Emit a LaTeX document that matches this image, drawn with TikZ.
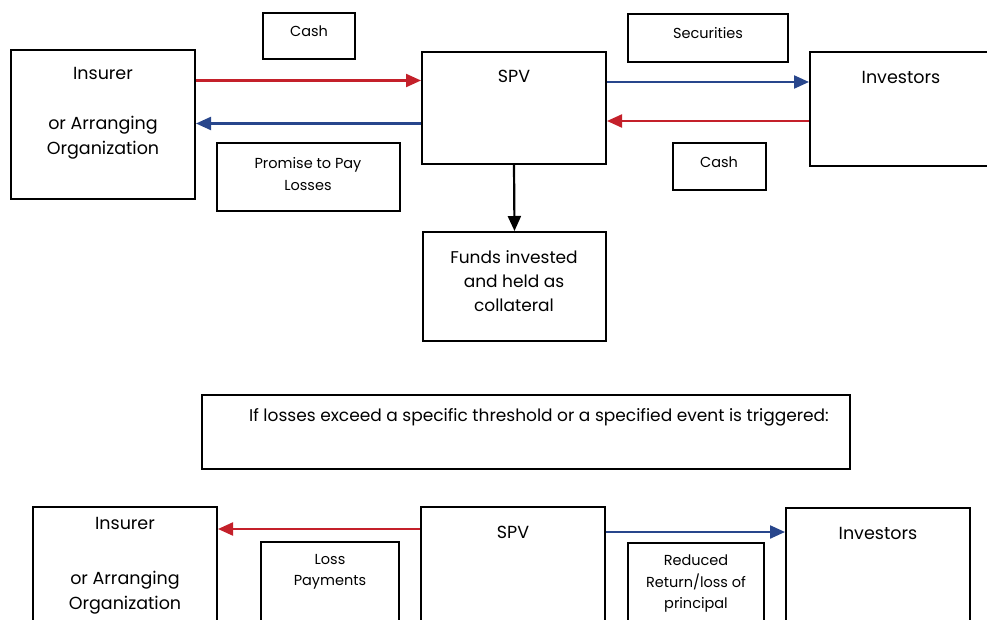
\documentclass[tikz,border=0pt]{standalone}
\usepackage{fontspec}
\setmainfont{Poppins}
\usetikzlibrary{arrows.meta}
\definecolor{arrred}{RGB}{196,32,42}
\definecolor{arrblue}{RGB}{40,70,140}
\tikzset{
  box/.style={draw=black, line width=2pt, inner sep=0pt, fill=white},
  big/.style={font=\fontsize{17.5}{25}\selectfont, align=center, inner sep=0pt},
  mid/.style={font=\fontsize{17}{24}\selectfont, align=center, inner sep=0pt},
  small/.style={font=\fontsize{14.5}{21.5}\selectfont, align=center, inner sep=0pt},
  conn/.style={line width=2.2pt, -{Triangle[length=15pt,width=13pt]}},
  redconn/.style={conn, draw=arrred, -{Triangle[length=15pt,width=13pt,fill=arrred]}},
  blueconn/.style={conn, draw=arrblue, -{Triangle[length=15pt,width=13pt,fill=arrblue]}},
}
\begin{document}
\begin{tikzpicture}[x=1pt,y=-1pt]
\useasboundingbox[fill=white] (0,0) rectangle (987,620);
% top row boxes
\node[box, minimum width=184pt, minimum height=149pt] (ins) at (103,124.5) {};
\node[box, minimum width=92pt, minimum height=46pt] (cashA) at (309,36) {};
\node[box, minimum width=183pt, minimum height=68pt] (prom) at (308.5,177) {};
\node[box, minimum width=184pt, minimum height=112pt] (spv) at (514,108) {};
\node[box, minimum width=160pt, minimum height=48pt] (sec) at (708,38) {};
\node[box, minimum width=182pt, minimum height=114pt] (inv) at (901,109) {};
\node[box, minimum width=93pt, minimum height=47pt] (cashB) at (719.5,166.5) {};
\node[box, minimum width=183pt, minimum height=109pt] (funds) at (514.5,286.5) {};
\node[box, minimum width=648pt, minimum height=74pt] (cond) at (526,432) {};
% bottom row boxes
\node[box, minimum width=184pt, minimum height=150pt] (insB) at (125,582) {};
\node[box, minimum width=138pt, minimum height=100pt] (loss) at (330,592) {};
\node[box, minimum width=184pt, minimum height=126pt] (spvB) at (513,570) {};
\node[box, minimum width=136pt, minimum height=100pt] (red) at (696,593) {};
\node[box, minimum width=184pt, minimum height=126pt] (invB) at (878,571) {};
% texts
\node[big] (insT) at (103,113) {Insurer\\[25pt]or Arranging\\Organization};
\node[small] (cashAT) at (309,31) {Cash};
\node[small] (promT) at (308,174) {Promise to Pay\\Losses};
\node[big] (spvT) at (514,76) {SPV};
\node[small] (secT) at (708,33) {Securities};
\node[big] (invT) at (901,77) {Investors};
\node[small] (cashBT) at (719,162) {Cash};
\node[mid] (fundsT) at (514,281) {Funds invested\\and held as\\collateral};
\node[mid] (condT) at (539,417) {If losses exceed a specific threshold or a specified event is triggered:};
\node[big] (insBT) at (125,566) {Insurer\\[30pt]or Arranging\\Organization};
\node[small] (lossT) at (330,572) {Loss\\Payments};
\node[big] (spvBT) at (513,532) {SPV};
\node[small] (redT) at (696,584) {Reduced\\Return/loss of\\principal};
\node[big] (invBT) at (878,533) {Investors};
% connectors top
\draw[redconn] ([yshift=44pt]ins.east) -- ([yshift=44pt]ins.east -| spv.west);
\draw[blueconn] ([yshift=1pt]ins.east -| spv.west) -- ([yshift=1pt]ins.east);
\draw[blueconn] ([yshift=26pt]spv.east) -- ([yshift=26pt]spv.east -| inv.west);
\draw[redconn] ([yshift=-13pt]spv.east -| inv.west) -- ([yshift=-13pt]spv.east);
\draw[line width=2.2pt, -{Triangle[length=15pt,width=13pt]}] (spv.south) -- (funds.north);
% connectors bottom
\draw[redconn] ([yshift=41pt]spvB.west) -- ([yshift=41pt]spvB.west -| insB.east);
\draw[blueconn] ([yshift=38pt]spvB.east) -- ([yshift=38pt]spvB.east -| invB.west);
\end{tikzpicture}
\end{document}
